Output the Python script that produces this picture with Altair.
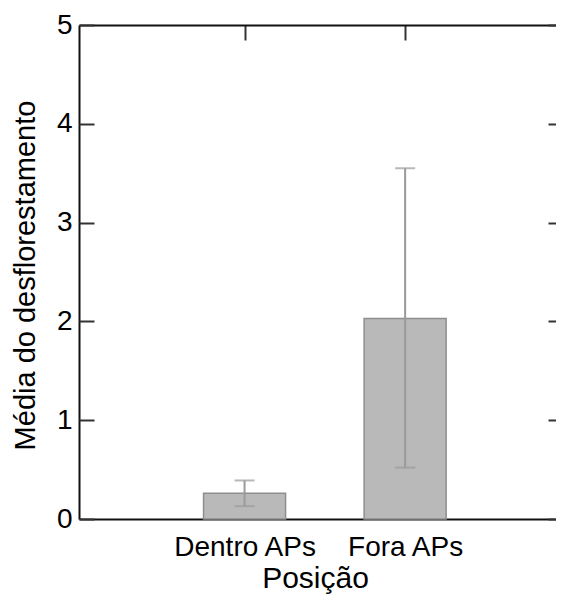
import altair as alt
import pandas as pd

# ---- data ----
categories = ["Dentro APs", "Fora APs"]
positions = [1, 2]
means = [0.26, 2.03]
lower = [0.13, 0.52]
upper = [0.39, 3.55]

y_ticks = [0, 1, 2, 3, 4, 5]
x_domain = [0, 2.9085]
y_domain = [0, 5]

df = pd.DataFrame({
    "pos": positions,
    "cat": categories,
    "mean": means,
    "lo": lower,
    "hi": upper,
})

W, H = 477, 494
FONT = "Liberation Sans"
AXIS_COL = "#111111"
TICK_COL = "#333333"
BAR_FILL = "#b9b9b9"
BAR_STROKE = "#8e8e8e"
ERR_COL = "#9a9a9a"

label_expr = " : ".join(
    f"datum.value == {p} ? '{c}'" for p, c in zip(positions, categories)
) + " : ''"

xs = alt.Scale(domain=x_domain, nice=False, zero=False)
ys = alt.Scale(domain=y_domain, nice=False)

base = alt.Chart(df)

bars = base.mark_bar(size=82, color=BAR_FILL, stroke=BAR_STROKE, strokeWidth=1.5).encode(
    x=alt.X("pos:Q", scale=xs, axis=alt.Axis(
        orient="bottom", values=positions, labelExpr=label_expr, ticks=False,
        grid=False, domain=True, domainColor=AXIS_COL, domainWidth=2,
        labelFontSize=28, labelFont=FONT, labelColor="#000", labelPadding=14,
        title="Posição", titleFontSize=30, titleFont=FONT, titleFontWeight="normal",
        titleColor="#000", titleX=236, titleY=68, titleBaseline="alphabetic",
        titleAlign="center")),
    y=alt.Y("mean:Q", scale=ys, axis=alt.Axis(
        orient="left", values=y_ticks, ticks=False, grid=False, domain=True,
        domainColor=AXIS_COL, domainWidth=2, labelFontSize=28, labelFont=FONT,
        labelColor="#000", labelPadding=7,
        title="Média do desflorestamento", titleFontSize=29, titleFont=FONT,
        titleFontWeight="normal", titleColor="#000", titleX=-45, titleY=250,
        titleBaseline="alphabetic", titleAlign="center", titleAngle=270)),
)

err = base.mark_rule(color=ERR_COL, strokeWidth=2).encode(
    x=alt.X("pos:Q", scale=xs, axis=alt.Axis(
        orient="bottom", offset=-H, values=positions, labels=False, ticks=True,
        tickSize=15, tickWidth=2, tickColor=TICK_COL, grid=False, domain=True,
        domainColor=AXIS_COL, domainWidth=2, title=None)),
    y=alt.Y("lo:Q", scale=ys, axis=alt.Axis(
        orient="right", offset=-W, values=y_ticks, labels=False, ticks=True,
        tickSize=15, tickWidth=2, tickColor=TICK_COL, grid=False, domain=False,
        title=None)),
    y2="hi:Q",
)

cap_lo = base.mark_tick(orient="horizontal", size=20, thickness=2, color=ERR_COL).encode(
    x=alt.X("pos:Q", scale=xs, axis=None),
    y=alt.Y("lo:Q", scale=ys, axis=alt.Axis(
        orient="left", offset=-W, values=y_ticks, labels=False, ticks=True,
        tickSize=8, tickWidth=2, tickColor=TICK_COL, grid=False, domain=False,
        title=None)),
)

cap_hi = base.mark_tick(orient="horizontal", size=20, thickness=2, color=ERR_COL).encode(
    x=alt.X("pos:Q", scale=xs, axis=None),
    y=alt.Y("hi:Q", scale=ys, axis=None),
)

chart = alt.layer(bars, err, cap_lo, cap_hi).resolve_axis(
    x="independent", y="independent"
).properties(
    width=W, height=H,
    autosize=alt.AutoSizeParams(type="none"),
    padding={"left": 71, "top": 17, "right": 0, "bottom": 75},
).configure_view(stroke=None).configure(background="white")

chart.save("out.html", embed_options={"renderer": "svg", "actions": False})
